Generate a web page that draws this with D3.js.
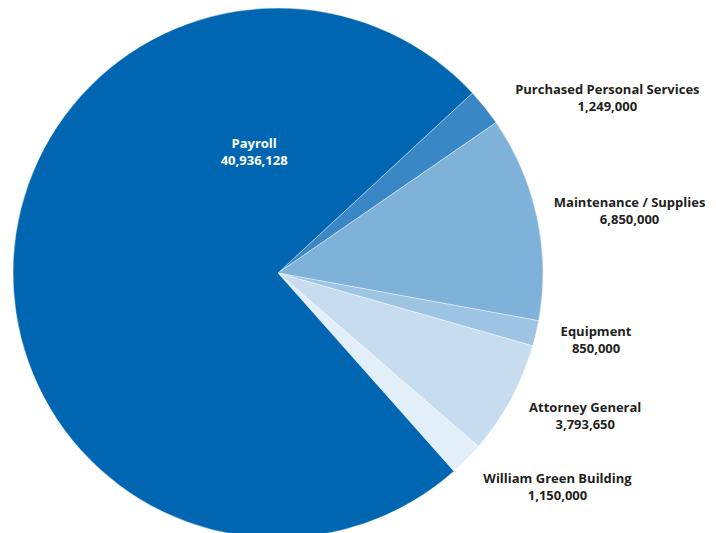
<!DOCTYPE html>
<html>
<head>
<meta charset="utf-8">
<script src="https://cdn.jsdelivr.net/npm/d3@7"></script>
<style>
    html, body { margin: 0; padding: 0; background: #fff; overflow: hidden; }
    text { font-family: "Open Sans", sans-serif; font-weight: bold; font-size: 13px; }
</style>
</head>
<body>
<svg id="chart" width="716" height="533"></svg>
<script>
'use strict';

// slices, clockwise from the Payroll / Purchased boundary
var categories = ['Purchased Personal Services', 'Maintenance / Supplies', 'Equipment',
    'Attorney General', 'William Green Building', 'Payroll'];
var amounts = [1249000, 6850000, 850000, 3793650, 1150000, 40936128];
var colors = ['#3a87c6', '#7fb2d8', '#9dc4e3', '#c7ddef', '#e2eef8', '#0066b2'];

// label placement: angle nudge (deg) off slice middle, distance from centre
var labelLayout = [[10.7, 373], [2.1, 357], [-1.3, 325], [-3.4, 339], [-7.2, 352], [76, 123]];

var svg = d3.select('#chart'),
    cx = 278,
    cy = 273,
    radius = 265,
    startDeg = 47.2;

var pie = d3.pie()
    .sort(null)
    .value(function(d) { return d; })
    .startAngle(startDeg * Math.PI / 180)
    .endAngle((startDeg + 360) * Math.PI / 180);

var arc = d3.arc().innerRadius(0).outerRadius(radius);
var arcs = pie(amounts);

var g = svg.append('g').attr('transform', 'translate(' + cx + ',' + cy + ')');

g.selectAll('path.slice')
    .data(arcs)
    .enter().append('path')
        .attr('class', 'slice')
        .attr('d', arc)
        .attr('fill', function(d, i) { return colors[i]; })
        .attr('stroke', '#fff')
        .attr('stroke-width', 0.4);

var fmt = d3.format(',');

var labels = g.selectAll('g.label')
    .data(arcs)
    .enter().append('g')
        .attr('class', 'label')
        .attr('transform', function(d, i) {
            var mid = (d.startAngle + d.endAngle) / 2 + labelLayout[i][0] * Math.PI / 180,
                r = labelLayout[i][1];
            return 'translate(' + (r * Math.sin(mid)) + ',' + (-r * Math.cos(mid)) + ')';
        });

labels.append('text')
    .attr('text-anchor', 'middle')
    .attr('y', -4)
    .attr('fill', function(d, i) { return i === 5 ? '#fff' : '#231f20'; })
    .text(function(d, i) { return categories[i]; });

labels.append('text')
    .attr('text-anchor', 'middle')
    .attr('y', 13)
    .attr('fill', function(d, i) { return i === 5 ? '#fff' : '#231f20'; })
    .text(function(d) { return fmt(d.data); });
</script>
</body>
</html>
